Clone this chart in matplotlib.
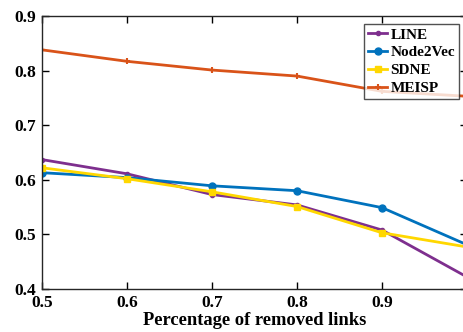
import matplotlib
matplotlib.use('Agg')
import matplotlib.pyplot as plt

x = [0.5, 0.6, 0.7, 0.8, 0.9, 1.0]
line_vals = [0.637, 0.611, 0.573, 0.554, 0.508, 0.422]
node2vec_vals = [0.613, 0.604, 0.589, 0.580, 0.549, 0.481]
sdne_vals = [0.622, 0.602, 0.578, 0.551, 0.503, 0.477]
meisp_vals = [0.838, 0.817, 0.801, 0.790, 0.762, 0.753]
xticks = [0.5, 0.6, 0.7, 0.8, 0.9, 1.0]
xticklabels = ['0.5', '0.6', '0.7', '0.8', '0.9', '1']
yticks = [0.4, 0.5, 0.6, 0.7, 0.8, 0.9]

plt.rcParams['font.family'] = ['Liberation Serif', 'DejaVu Serif']
plt.rcParams['font.weight'] = 'bold'

fig = plt.figure(figsize=(4.64, 3.32), dpi=100)
ax = fig.add_axes([42 / 464, 1 - 289 / 332, 425 / 464, 273 / 332])

ax.plot(x, line_vals, color='#7E2F8E', lw=2, marker='.', ms=6, label='LINE')
ax.plot(x, node2vec_vals, color='#0072BD', lw=2, marker='o', ms=5, label='Node2Vec')
ax.plot(x, sdne_vals, color='#FFD700', lw=2, marker='s', ms=5, label='SDNE')
ax.plot(x, meisp_vals, color='#D95319', lw=2, marker='+', ms=5, mew=1.5, label='MEISP')

ax.set_xlim(0.5, 1.0)
ax.set_ylim(0.4, 0.9)
ax.set_xticks(xticks)
ax.set_xticklabels(xticklabels)
ax.set_yticks(yticks)
ax.tick_params(direction='in', top=True, right=True, labelsize=12.5, length=5, width=1, pad=4)
for lab in ax.get_xticklabels() + ax.get_yticklabels():
    lab.set_fontweight('bold')
for s in ax.spines.values():
    s.set_linewidth(1)
    s.set_color('#262626')
ax.set_xlabel('Percentage of removed links', fontsize=13.3, fontweight='bold', labelpad=1)

leg = ax.legend(loc='upper right', bbox_to_anchor=(459 / 464, 1 - 24 / 332),
                bbox_transform=fig.transFigure, prop={'weight': 'bold', 'size': 11},
                frameon=True, fancybox=False, handlelength=1.3, handletextpad=0.2,
                labelspacing=0.28, borderpad=0.25, borderaxespad=0)
leg.get_frame().set_edgecolor('#262626')
leg.get_frame().set_linewidth(1)

fig.savefig('out.png', dpi=100)
